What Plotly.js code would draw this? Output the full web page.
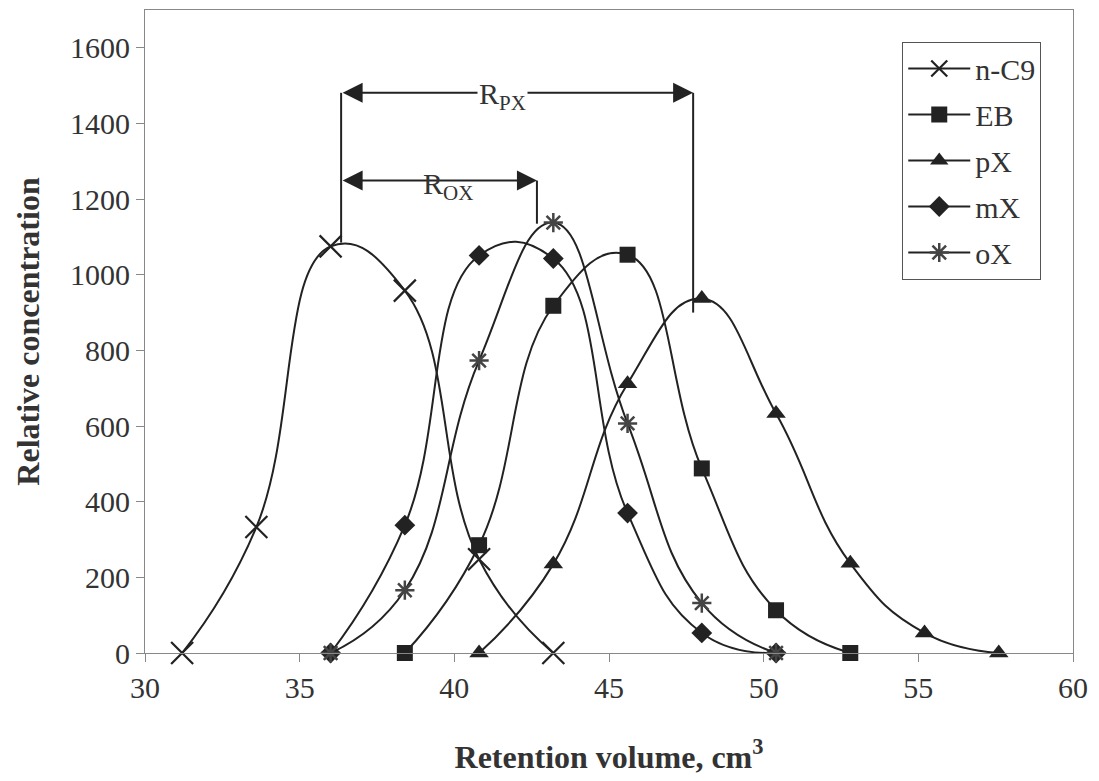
<!DOCTYPE html>
<html>
<head>
<meta charset="utf-8">
<script src="https://cdn.plot.ly/plotly-3.0.1.min.js"></script>
<style>html,body{margin:0;padding:0;background:#fff;}#chart{width:1099px;height:781px;}</style>
</head>
<body>
<div id="chart"></div>
<script>
// Retention volume (cm3) and relative concentration for each component
const nC9_x = [31.2, 33.6, 36.0, 38.4, 40.8, 43.2];
const nC9_y = [0, 333, 1075, 958, 248, 0];
const EB_x  = [38.4, 40.8, 43.2, 45.6, 48.0, 50.4, 52.8];
const EB_y  = [0, 285, 918, 1053, 488, 113, 0];
const pX_x  = [40.8, 43.2, 45.6, 48.0, 50.4, 52.8, 55.2, 57.6];
const pX_y  = [0, 235, 712, 937, 633, 237, 53, 0];
const mX_x  = [36.0, 38.4, 40.8, 43.2, 45.6, 48.0, 50.4];
const mX_y  = [0, 338, 1051, 1043, 370, 53, 0];
const oX_x  = [36.0, 38.4, 40.8, 43.2, 45.6, 48.0, 50.4];
const oX_y  = [0, 166, 773, 1138, 607, 132, 0];
const seriesNames = ["n-C9", "EB", "pX", "mX", "oX"];

// Resolution markers (R_PX, R_OX)
const rStart = 36.34, rPXend = 47.72, rOXend = 42.67;
const rPXlevel = 1481, rOXlevel = 1249;

const FONT = "Liberation Serif";
const INK = "#222";
const TXT = "#333";
const lineStyle = {color: INK, width: 2, shape: "spline", smoothing: 1.3};

function tr(x, y, name, marker) {
  return {x: x, y: y, name: name, legendgroup: name, type: "scatter", mode: "lines+markers",
          line: lineStyle, marker: marker, cliponaxis: false};
}
const data = [
  tr(nC9_x, nC9_y, seriesNames[0], {symbol: "x-thin-open", size: 22, line: {color: INK, width: 2.2}, color: INK}),
  tr(EB_x, EB_y, seriesNames[1], {symbol: "square", size: 16, color: INK, line: {width: 0}}),
  tr(pX_x, pX_y, seriesNames[2], {symbol: "triangle-up", size: 17, color: INK, line: {width: 0}}),
  tr(mX_x, mX_y, seriesNames[3], {symbol: "diamond", size: 16, color: INK, line: {width: 0}}),
  tr(oX_x, oX_y, seriesNames[4], {symbol: "asterisk-open", size: 16, color: "#444", line: {color: "#444", width: 2.5}})
];

const vline = (x, y0, y1) => ({type: "line", xref: "x", yref: "y", x0: x, x1: x, y0: y0, y1: y1,
                               line: {color: INK, width: 2}});
const arrow = (x0, x1, y) => ({x: x1, y: y, ax: x0, ay: y, xref: "x", yref: "y", axref: "x", ayref: "y",
                               text: "", showarrow: true, arrowhead: 2, startarrowhead: 2, arrowside: "end+start",
                               arrowsize: 2, startarrowsize: 2, arrowwidth: 2, arrowcolor: INK,
                               standoff: 0, startstandoff: 0});

const layout = {
  width: 1099, height: 781,
  paper_bgcolor: "#fff", plot_bgcolor: "#fff",
  margin: {l: 145, r: 26, t: 10, b: 128},
  font: {family: FONT, color: TXT, size: 30},
  showlegend: true,
  legend: {x: 0.816, y: 0.951, xanchor: "left", yanchor: "top", bgcolor: "#fff",
           bordercolor: "#555", borderwidth: 1, font: {family: FONT, size: 30, color: TXT},
           tracegroupgap: 4, itemwidth: 62},
  xaxis: {range: [30, 60], dtick: 5, tick0: 30, ticks: "outside", ticklen: 8, tickcolor: "#888",
          showgrid: false, zeroline: false, showline: true, linecolor: "#888", linewidth: 1, mirror: true,
          tickfont: {family: FONT, size: 30, color: TXT},
          title: {text: "Retention volume, cm<sup>3</sup>", font: {family: FONT, size: 32, color: TXT, weight: "bold"}, standoff: 42}},
  yaxis: {range: [0, 1700], dtick: 200, tick0: 0, ticks: "outside", ticklen: 8, tickcolor: "#888",
          showgrid: false, zeroline: false, showline: true, linecolor: "#888", linewidth: 1, mirror: true,
          tickfont: {family: FONT, size: 30, color: TXT},
          title: {text: "Relative concentration", font: {family: FONT, size: 32, color: TXT, weight: "bold"}, standoff: 20}},
  shapes: [
    vline(rStart, 1085, rPXlevel),
    vline(rPXend, 900, rPXlevel),
    vline(rOXend, 1135, rOXlevel)
  ],
  annotations: [
    arrow(rStart, rPXend, rPXlevel),
    arrow(rStart, rOXend, rOXlevel),
    {x: 41.57, y: rPXlevel, xref: "x", yref: "y", text: "R<sub>PX</sub>", showarrow: false,
     bgcolor: "#fff", font: {family: FONT, size: 30, color: TXT}, yshift: -3},
    {x: 39.8, y: rOXlevel, xref: "x", yref: "y", text: "R<sub>OX</sub>", showarrow: false,
     bgcolor: "rgba(255,255,255,0)", font: {family: FONT, size: 30, color: TXT}, yshift: -5}
  ]
};

Plotly.newPlot("chart", data, layout, {displayModeBar: false, staticPlot: true});
</script>
</body>
</html>
